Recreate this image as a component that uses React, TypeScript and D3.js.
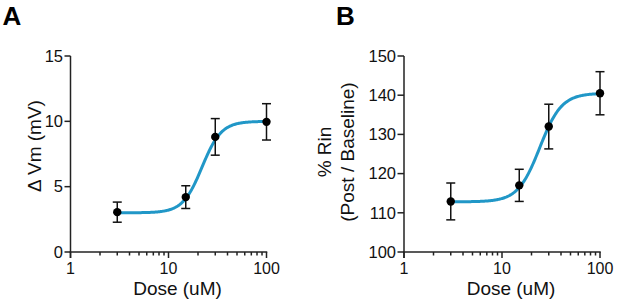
import React from "react";
import * as d3 from "d3";

// ---- Data ----
const doses = [3, 15, 30, 100];

const vmMean = [3.05, 4.2, 8.81, 9.96];
const vmErr = [0.77, 0.87, 1.4, 1.39];
const vmFit = [3.0, 10.0, 22, 4.4]; // bottom, top, EC50, hill
const vmTicks = [0, 5, 10, 15];

const rinMean = [112.9, 117.0, 132.0, 140.5];
const rinErr = [4.7, 4.1, 5.7, 5.5];
const rinFit = [112.8, 140.5, 24.3, 3.9]; // bottom, top, EC50, hill
const rinTicks = [100, 110, 120, 130, 140, 150];

const xMajor = [1, 10, 100];
const xMinor = [2, 3, 4, 5, 6, 7, 8, 9, 20, 30, 40, 50, 60, 70, 80, 90];

const FONT = "'Liberation Sans', Arial, Helvetica, sans-serif";
const CURVE = "#2197c7";

type PanelProps = {
  left: number;
  label: string;
  yDomain: [number, number];
  yTicks: number[];
  mean: number[];
  err: number[];
  fit: number[];
  yLabelLines: string[];
  yLabelXs: number[];
  yLabelY: number;
  tickLen: number;
};

function Panel(p: PanelProps) {
  const top = 56;
  const bottom = 252;
  const x0 = p.left;
  const x1 = p.left + 196;
  const x = d3.scaleLog().domain([1, 100]).range([x0, x1]);
  const y = d3.scaleLinear().domain(p.yDomain).range([bottom, top]);
  const [b, t, ec, h] = p.fit;
  const curvePts = d3.range(0, 201).map((i) => {
    const lx = Math.log10(3) + (i / 200) * (2 - Math.log10(3));
    const d = Math.pow(10, lx);
    return [d, b + (t - b) / (1 + Math.pow(ec / d, h))] as [number, number];
  });
  const line = d3
    .line<[number, number]>()
    .x((d) => x(d[0]))
    .y((d) => y(d[1]))
    .curve(d3.curveLinear);

  return (
    <g>
      <text x={p.left - 68} y={25} fontFamily={FONT} fontWeight="bold" fontSize={26}>
        {p.label}
      </text>
      {/* y axis */}
      <line x1={x0} x2={x0} y1={top} y2={bottom + 6} stroke="#222" strokeWidth={1.5} />
      {p.yTicks.map((v) => (
        <g key={v}>
          <line x1={x0 - p.tickLen} x2={x0} y1={y(v)} y2={y(v)} stroke="#222" strokeWidth={1.5} />
          <text
            x={x0 - p.tickLen - 1.5}
            y={y(v)}
            dy="0.35em"
            textAnchor="end"
            fontFamily={FONT}
            fontSize={16.5}
            fill="#111"
          >
            {v}
          </text>
        </g>
      ))}
      {/* x axis */}
      <line x1={x0 - 0.75} x2={x1 + 0.75} y1={bottom} y2={bottom} stroke="#222" strokeWidth={1.5} />
      {xMajor.map((v) => (
        <g key={v}>
          <line x1={x(v)} x2={x(v)} y1={bottom} y2={bottom + 6} stroke="#222" strokeWidth={1.5} />
          <text
            x={x(v)}
            y={273.5}
            textAnchor="middle"
            fontFamily={FONT}
            fontSize={16}
            fill="#111"
          >
            {v}
          </text>
        </g>
      ))}
      {xMinor.map((v) => (
        <line key={v} x1={x(v)} x2={x(v)} y1={bottom} y2={bottom + 3.5} stroke="#222" strokeWidth={1.5} />
      ))}
      <text
        x={(x0 + x1) / 2 + 9}
        y={295}
        textAnchor="middle"
        fontFamily={FONT}
        fontSize={19}
        fill="#111"
      >
        Dose (uM)
      </text>
      {/* y label */}
      {p.yLabelLines.map((s, i) => (
        <text
          key={i}
          transform={`translate(${p.yLabelXs[i]},${p.yLabelY}) rotate(-90)`}
          textAnchor="middle"
          dy="0.35em"
          fontFamily={FONT}
          fontSize={19}
          fill="#111"
        >
          {s}
        </text>
      ))}
      {/* fit curve */}
      <path d={line(curvePts) || ""} fill="none" stroke={CURVE} strokeWidth={3} />
      {/* error bars and points */}
      {doses.map((d, i) => {
        const cx = x(d);
        const yt = y(p.mean[i] + p.err[i]);
        const yb = y(p.mean[i] - p.err[i]);
        return (
          <g key={d}>
            <line x1={cx} x2={cx} y1={yt} y2={yb} stroke="#111" strokeWidth={1.5} />
            <line x1={cx - 4.5} x2={cx + 4.5} y1={yt} y2={yt} stroke="#111" strokeWidth={1.5} />
            <line x1={cx - 4.5} x2={cx + 4.5} y1={yb} y2={yb} stroke="#111" strokeWidth={1.5} />
            <circle cx={cx} cy={y(p.mean[i])} r={4.2} fill="#000" />
          </g>
        );
      })}
    </g>
  );
}

export default function App() {
  return (
    <svg
      width={617}
      height={303}
      style={{ position: "absolute", left: 0, top: 0, background: "#fff" }}
    >
      <rect width={617} height={303} fill="#fff" />
      <Panel
        left={70.5}
        label="A"
        yDomain={[0, 15]}
        yTicks={vmTicks}
        mean={vmMean}
        err={vmErr}
        fit={vmFit}
        yLabelLines={["Δ Vm (mV)"]}
        yLabelXs={[34]}
        yLabelY={146}
        tickLen={6}
      />
      <Panel
        left={404}
        label="B"
        yDomain={[100, 150]}
        yTicks={rinTicks}
        mean={rinMean}
        err={rinErr}
        fit={rinFit}
        yLabelLines={["% Rin", "(Post / Baseline)"]}
        yLabelXs={[324, 347]}
        yLabelY={152}
        tickLen={6.5}
      />
    </svg>
  );
}
